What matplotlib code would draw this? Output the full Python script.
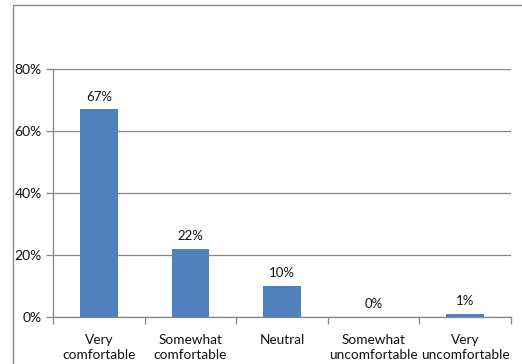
import matplotlib
matplotlib.use("Agg")
import matplotlib.pyplot as plt
from matplotlib.patches import Rectangle
from matplotlib.ticker import FixedLocator

plt.rcParams['font.family'] = ['Lato', 'DejaVu Sans']

categories = ['Very\ncomfortable', 'Somewhat\ncomfortable', 'Neutral',
              'Somewhat\nuncomfortable', 'Very\nuncomfortable']
values = [67, 22, 10, 0, 1]
y_ticks = [0, 20, 40, 60, 80]

bar_color = '#4F81BD'
grid_color = '#878787'
text_color = '#111111'

fig = plt.figure(figsize=(5.22, 3.64), dpi=100)
ax = fig.add_axes([0.1015, 0.129, 0.8775, 0.681])

# outer chart frame (runs off the right and bottom edges)
fig.patches.append(Rectangle((13 / 522, -0.2), 1.2, 0.2 + 1 - 5 / 364,
                             transform=fig.transFigure, fill=False,
                             edgecolor='#8c8c8c', linewidth=1.0))

x = range(len(categories))
ax.bar(x, values, width=0.41, color=bar_color, zorder=3)

for xi, v in zip(x, values):
    ax.text(xi, v + 2.2, f'{v}%', ha='center', va='bottom', fontsize=9.5,
            color=text_color)

ax.set_xlim(-0.5, len(categories) - 0.5)
ax.set_ylim(0, 80)
ax.set_yticks(y_ticks)
ax.set_yticklabels([f'{t}%' for t in y_ticks])
ax.yaxis.grid(True, color=grid_color, linewidth=0.9, zorder=0)

ax.set_xticks(list(x))
ax.set_xticklabels(categories, linespacing=1.35)
ax.xaxis.set_minor_locator(FixedLocator([i - 0.5 for i in range(len(categories) + 1)]))
ax.tick_params(axis='x', which='major', length=0, pad=12, labelsize=9.8,
               labelcolor=text_color)
ax.tick_params(axis='x', which='minor', length=5, color=grid_color, width=0.9)
ax.tick_params(axis='y', length=5, color=grid_color, width=0.9, pad=3,
               labelsize=10, labelcolor=text_color)

for side in ['top', 'right']:
    ax.spines[side].set_visible(False)
for side in ['left', 'bottom']:
    ax.spines[side].set_color(grid_color)
    ax.spines[side].set_linewidth(0.9)

fig.savefig('out.png', dpi=100)
